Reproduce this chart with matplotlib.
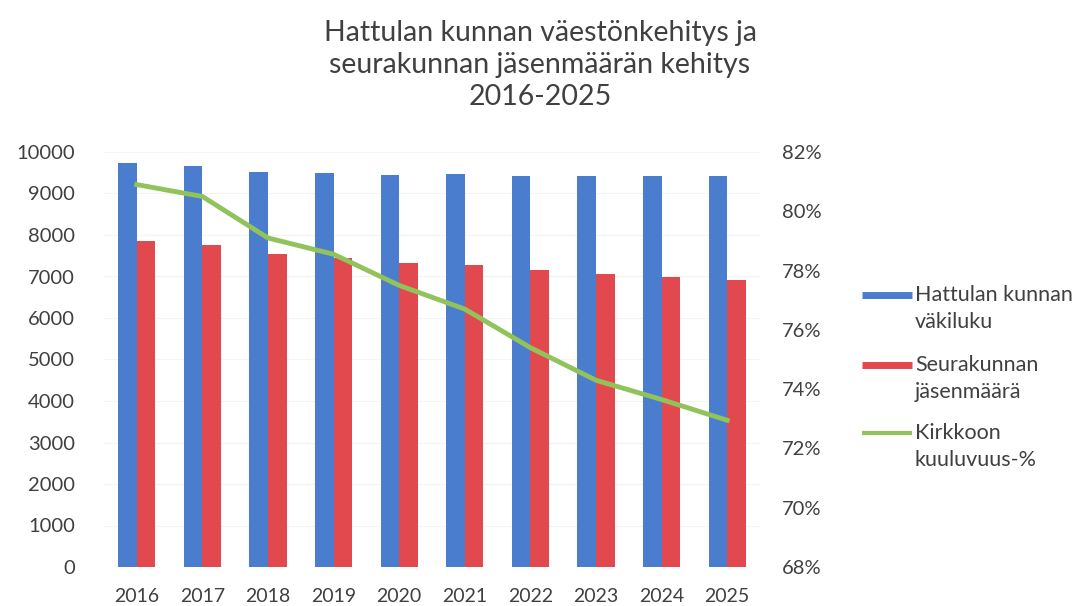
import numpy as np
import matplotlib
matplotlib.use('Agg')
import matplotlib.pyplot as plt
from matplotlib.lines import Line2D
from matplotlib.ticker import FuncFormatter

plt.rcParams['font.family'] = ['Lato', 'DejaVu Sans']

years = ['2016', '2017', '2018', '2019', '2020', '2021', '2022', '2023', '2024', '2025']
vakiluku = [9730, 9660, 9530, 9490, 9450, 9480, 9430, 9430, 9430, 9430]
jasenet = [7860, 7760, 7540, 7450, 7330, 7285, 7150, 7065, 6995, 6905]
kuuluvuus = [80.9, 80.5, 79.1, 78.55, 77.5, 76.7, 75.4, 74.3, 73.65, 72.95]
series_names = ['Hattulan kunnan\nväkiluku', 'Seurakunnan\njäsenmäärä', 'Kirkkoon\nkuuluvuus-%']

BLUE = '#4a7dce'
RED = '#e2494f'
GREEN = '#92c25c'
TXT = '#404040'

fig = plt.figure(figsize=(10.8, 6.06), dpi=100)
ax = fig.add_axes([104 / 1080, 1 - 567 / 606, 656 / 1080, 415 / 606])
x = np.arange(len(years))
w = 0.285
ax.bar(x - w / 2, vakiluku, w, color=BLUE, zorder=2)
ax.bar(x + w / 2, jasenet, w, color=RED, zorder=2)
ax.set_ylim(0, 10000)
ax.set_yticks(range(0, 10001, 1000))
ax.set_xlim(-0.5, len(years) - 0.5)
ax.set_xticks(x)
ax.set_xticklabels(years)
ax.grid(axis='y', color='#f4f4f4', lw=0.8, zorder=0)
for s in ax.spines.values():
    s.set_visible(False)
ax.tick_params(axis='y', length=0, pad=21, labelsize=14.5, labelcolor=TXT)
ax.tick_params(axis='x', length=0, pad=15, labelsize=14, labelcolor=TXT)

ax2 = ax.twinx()
ax2.plot(x, kuuluvuus, color=GREEN, lw=3.5, zorder=3)
ax2.set_ylim(68, 82)
ax2.set_yticks(range(68, 83, 2))
ax2.yaxis.set_major_formatter(FuncFormatter(lambda v, p: f'{v:.0f}%'))
for s in ax2.spines.values():
    s.set_visible(False)
ax2.tick_params(axis='y', length=0, pad=16, labelsize=14.5, labelcolor=TXT)

fig.text(540 / 1080, 1 - 65 / 606,
         'Hattulan kunnan väestönkehitys ja\nseurakunnan jäsenmäärän kehitys\n2016-2025',
         ha='center', va='center', fontsize=20.5, color=TXT, linespacing=1.3)

# legend drawn by hand so the two-line labels get Excel-like spacing
leg_colors = [BLUE, RED, GREEN]
leg_lw = [5, 5, 3]
leg_y = [295, 365, 433]
for name, c, lw, yp in zip(series_names, leg_colors, leg_lw, leg_y):
    yf = 1 - yp / 606
    fig.add_artist(Line2D([862 / 1080, 912 / 1080], [yf, yf], color=c, lw=lw,
                          solid_capstyle='butt', transform=fig.transFigure))
    for k, line in enumerate(name.split('\n')):
        fig.text(915 / 1080, 1 - (yp + 27 * k) / 606, line, ha='left', va='center',
                 fontsize=15.5, color=TXT)

fig.savefig('out.png', dpi=100)
